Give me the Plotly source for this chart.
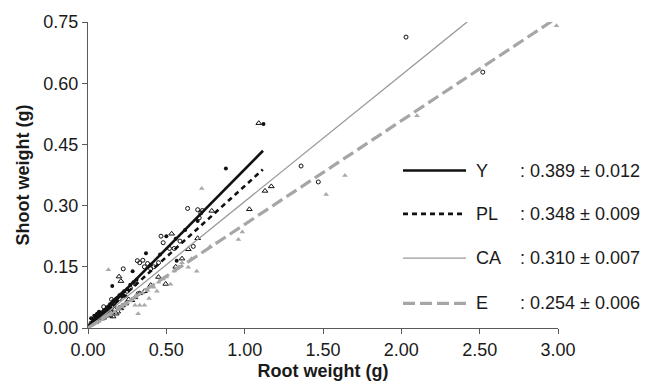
import plotly.graph_objects as go

# ---------------- data ----------------
groups = ["Y", "PL", "CA", "E"]
slopes = [0.389, 0.348, 0.310, 0.254]
slope_err = [0.012, 0.009, 0.007, 0.006]
line_end_x = [1.117, 1.116, 2.42, 2.96]

Y_x = [0.02, 0.03, 0.03, 0.04, 0.05, 0.05, 0.06, 0.07, 0.08, 0.08, 0.09, 0.10, 0.11, 0.12, 0.12,
       0.13, 0.14, 0.15, 0.16, 0.17, 0.18, 0.19, 0.20, 0.21, 0.22, 0.23, 0.25, 0.27, 0.29, 0.31,
       0.155, 0.285, 0.37, 0.40, 0.46, 0.50, 0.566, 0.56, 0.62, 0.70, 0.88, 1.12, 0.04, 0.07, 0.10, 0.14,
       0.01, 0.02, 0.06, 0.09, 0.11, 0.13, 0.17, 0.24, 0.035, 0.075]
Y_y = [0.010, 0.015, 0.022, 0.018, 0.020, 0.028, 0.025, 0.033, 0.030, 0.038, 0.036, 0.042, 0.045, 0.050, 0.044,
       0.053, 0.058, 0.060, 0.066, 0.068, 0.072, 0.075, 0.080, 0.082, 0.086, 0.090, 0.095, 0.106, 0.112, 0.118,
       0.103, 0.139, 0.183, 0.155, 0.180, 0.225, 0.165, 0.219, 0.240, 0.262, 0.391, 0.500, 0.030, 0.040, 0.035, 0.050,
       0.006, 0.024, 0.035, 0.028, 0.032, 0.040, 0.055, 0.078, 0.012, 0.020]

PL_x = [0.02, 0.03, 0.04, 0.05, 0.06, 0.07, 0.08, 0.09, 0.10, 0.11, 0.12, 0.13, 0.14, 0.16, 0.18, 0.20,
        0.22, 0.225, 0.25, 0.27, 0.30, 0.315, 0.33, 0.35, 0.36, 0.38, 0.40, 0.42, 0.45, 0.466, 0.48, 0.52,
        0.587, 0.55, 0.636, 0.672, 0.70, 0.71, 0.72, 0.73, 0.32, 1.36, 1.47, 2.03, 2.52, 0.06, 0.10, 0.15]
PL_y = [0.012, 0.010, 0.018, 0.022, 0.024, 0.030, 0.028, 0.035, 0.040, 0.042, 0.046, 0.050, 0.052, 0.060, 0.068, 0.072,
        0.080, 0.145, 0.090, 0.098, 0.108, 0.165, 0.160, 0.166, 0.150, 0.158, 0.145, 0.150, 0.160, 0.225, 0.209, 0.195,
        0.213, 0.195, 0.293, 0.200, 0.290, 0.270, 0.282, 0.288, 0.084, 0.397, 0.358, 0.713, 0.627, 0.034, 0.052, 0.070]

CA_x = [0.03, 0.05, 0.06, 0.08, 0.09, 0.10, 0.11, 0.12, 0.13, 0.14, 0.15, 0.16, 0.17, 0.18, 0.19, 0.20,
        0.21, 0.22, 0.24, 0.26, 0.28, 0.30, 0.33, 0.36, 0.198, 0.21, 0.40, 0.45, 0.496, 0.534, 0.56, 0.60,
        0.64, 0.79, 1.03, 1.09, 1.13, 1.17, 0.70]
CA_y = [0.012, 0.015, 0.020, 0.022, 0.028, 0.025, 0.030, 0.035, 0.032, 0.030, 0.038, 0.028, 0.045, 0.035, 0.040, 0.050,
        0.048, 0.055, 0.060, 0.070, 0.068, 0.075, 0.085, 0.090, 0.126, 0.115, 0.105, 0.125, 0.108, 0.231, 0.150, 0.170,
        0.193, 0.287, 0.291, 0.502, 0.336, 0.347, 0.220]

E_x = [0.03, 0.05, 0.07, 0.09, 0.10, 0.12, 0.14, 0.15, 0.17, 0.19, 0.20, 0.22, 0.24, 0.25, 0.27, 0.28,
       0.30, 0.30, 0.33, 0.35, 0.36, 0.38, 0.39, 0.42, 0.45, 0.48, 0.50, 0.527, 0.55, 0.58, 0.60, 0.64,
       0.66, 0.694, 0.726, 0.78, 0.96, 0.985, 1.52, 1.64, 2.10, 2.99, 0.13, 0.32, 0.44]
E_y = [0.008, 0.012, 0.016, 0.020, 0.026, 0.028, 0.032, 0.036, 0.040, 0.045, 0.048, 0.052, 0.058, 0.062, 0.066, 0.070,
       0.056, 0.076, 0.056, 0.086, 0.056, 0.092, 0.072, 0.100, 0.112, 0.120, 0.125, 0.107, 0.140, 0.150, 0.160, 0.149,
       0.170, 0.139, 0.342, 0.200, 0.217, 0.235, 0.327, 0.374, 0.520, 0.741, 0.143, 0.035, 0.090]

x_ticks = [0.0, 0.5, 1.0, 1.5, 2.0, 2.5, 3.0]
y_ticks = [0.0, 0.15, 0.30, 0.45, 0.60, 0.75]

# ---------------- styles ----------------
FONT = "Liberation Sans, Arial, sans-serif"
TXT = "#1a1a1a"
AX = "#5a5a5a"
point_data = [(Y_x, Y_y), (PL_x, PL_y), (CA_x, CA_y), (E_x, E_y)]
marker_styles = [
    dict(symbol="circle", size=4, color="#111111"),
    dict(symbol="circle-open", size=4, color="#111111", line=dict(width=1, color="#111111")),
    dict(symbol="triangle-up-open", size=5, color="#111111", line=dict(width=1, color="#111111")),
    dict(symbol="triangle-up", size=5, color="#a8a8a8"),
]
line_styles = [
    dict(color="#111111", width=2.6, dash="solid"),
    dict(color="#111111", width=2.6, dash="5px,4px"),
    dict(color="#9a9a9a", width=1.3, dash="solid"),
    dict(color="#a6a6a6", width=3.2, dash="12px,5px"),
]

fig = go.Figure()
for (xs, ys), ms in zip(point_data, marker_styles):
    fig.add_trace(go.Scatter(x=xs, y=ys, mode="markers", marker=ms,
                             showlegend=False, cliponaxis=False, hoverinfo="skip"))

for s, xe, ls in zip(slopes, line_end_x, line_styles):
    fig.add_trace(go.Scatter(x=[0, xe], y=[0, s * xe], mode="lines", line=ls,
                             showlegend=False, hoverinfo="skip"))

# custom legend
leg_y_px = [170, 214, 259, 305]
W, H = 656, 389
ml, mr, mt, mb = 88, 98, 19, 59
pw, ph = W - ml - mr, H - mt - mb


def px2paper(px, py):
    return (px - ml) / pw, (H - mb - py) / ph


for g, s, e, ls, py in zip(groups, slopes, slope_err, line_styles, leg_y_px):
    x0, y0 = px2paper(403, py)
    x1, _ = px2paper(466, py)
    fig.add_shape(type="line", xref="paper", yref="paper", x0=x0, x1=x1, y0=y0, y1=y0,
                  line=ls)
    xl, _ = px2paper(474, py)
    fig.add_annotation(xref="paper", yref="paper", x=xl, y=y0, text=g, showarrow=False,
                       xanchor="left", yanchor="middle", font=dict(size=18, color=TXT, family=FONT))
    xv, _ = px2paper(518, py)
    fig.add_annotation(xref="paper", yref="paper", x=xv, y=y0,
                       text=f": {s:.3f} \u00b1 {e:.3f}", showarrow=False,
                       xanchor="left", yanchor="middle", font=dict(size=18, color=TXT, family=FONT))

axis_common = dict(showgrid=False, zeroline=False, showline=True, linecolor=AX, linewidth=1,
                   ticks="outside", ticklen=5, tickcolor=AX, tickwidth=1,
                   tickfont=dict(size=18, color=TXT, family=FONT), tickformat=".2f")

fig.update_layout(
    width=W, height=H,
    margin=dict(l=ml, r=mr, t=mt, b=mb, pad=0),
    paper_bgcolor="white", plot_bgcolor="white",
    font=dict(family=FONT, color=TXT),
    xaxis=dict(range=[0, 3], tickvals=x_ticks,
               title=dict(text="<b>Root weight (g)</b>", font=dict(size=18, color=TXT, family=FONT), standoff=5),
               **axis_common),
    yaxis=dict(range=[0, 0.75], tickvals=y_ticks,
               title=dict(text="<b>Shoot weight (g)</b>", font=dict(size=18, color=TXT, family=FONT), standoff=9),
               **axis_common),
)

fig.write_html("out.html")
